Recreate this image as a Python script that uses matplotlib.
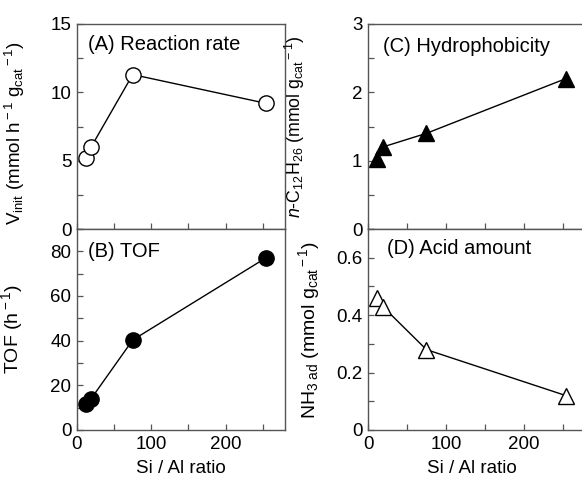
import numpy as np
import matplotlib
matplotlib.use("Agg")
import matplotlib.pyplot as plt
from matplotlib.ticker import MultipleLocator, FuncFormatter

plt.rcParams['font.family'] = ['Liberation Sans', 'DejaVu Sans']
plt.rcParams['mathtext.fontset'] = 'custom'
plt.rcParams['mathtext.rm'] = 'Liberation Sans'
plt.rcParams['mathtext.it'] = 'Liberation Sans:italic'
plt.rcParams['font.size'] = 13

# Si/Al ratio
si_al = [12, 19, 75, 254]

# panel data
rate = [5.2, 6.0, 11.3, 9.2]          # (A) V_init
tof = [11.5, 14.0, 40.3, 77.0]        # (B) TOF
hydro = [1.02, 1.2, 1.4, 2.2]         # (C) n-C12H26 adsorbed
acid = [0.46, 0.43, 0.28, 0.12]       # (D) NH3 adsorbed

fig = plt.figure(figsize=(5.82, 4.78), dpi=100)

W, H = 582.0, 478.0
def box(l, r, t, b):
    return [l / W, (H - b) / H, (r - l) / W, (b - t) / H]

axA = fig.add_axes(box(77, 285, 24, 229))
axB = fig.add_axes(box(77, 285, 229, 430))
axC = fig.add_axes(box(368, 586, 24, 229))
axD = fig.add_axes(box(368, 586, 229, 430))

spine_col = '#555555'

def style(ax, ymax, ymaj, ymin, fmt, bottom):
    ax.set_xlim(0, 280)
    ax.set_ylim(0, ymax)
    ax.xaxis.set_major_locator(MultipleLocator(100))
    ax.xaxis.set_minor_locator(MultipleLocator(50))
    ax.yaxis.set_major_locator(MultipleLocator(ymaj))
    ax.yaxis.set_minor_locator(MultipleLocator(ymin))
    ax.yaxis.set_major_formatter(FuncFormatter(fmt))
    ax.tick_params(which='both', direction='in', length=4, width=0.9,
                   color=spine_col, labelsize=13.5, pad=4,
                   top=False, right=False)
    if not bottom:
        ax.tick_params(labelbottom=False)
    for s in ax.spines.values():
        s.set_color(spine_col)
        s.set_linewidth(1.0)

intfmt = lambda v, p: '%d' % round(v)
decfmt = lambda v, p: '0' if abs(v) < 1e-9 else '%.1f' % v

style(axA, 15, 5, 2.5, intfmt, False)
style(axB, 90, 20, 10, intfmt, True)
style(axC, 3, 1, 0.5, intfmt, False)
style(axD, 0.7, 0.2, 0.1, decfmt, True)

kw = dict(color='black', lw=1.0, markeredgewidth=1.0,
          markeredgecolor='black', clip_on=False)
axA.plot(si_al, rate, marker='o', markersize=11, markerfacecolor='white', **kw)
axB.plot(si_al, tof, marker='o', markersize=11, markerfacecolor='black', **kw)
axC.plot(si_al, hydro, marker='^', markersize=12, markerfacecolor='black', **kw)
axD.plot(si_al, acid, marker='^', markersize=12, markerfacecolor='white', **kw)

tfs = 14.5
axA.text(0.053, 0.90, '(A) Reaction rate', transform=axA.transAxes,
         fontsize=tfs, va='center', ha='left')
axB.text(0.053, 0.89, '(B) TOF', transform=axB.transAxes,
         fontsize=tfs, va='center', ha='left')
axC.text(0.067, 0.889, '(C) Hydrophobicity', transform=axC.transAxes,
         fontsize=tfs, va='center', ha='left')
axD.text(0.086, 0.904, '(D) Acid amount', transform=axD.transAxes,
         fontsize=tfs, va='center', ha='left')

axA.set_ylabel(r'V$_{\rm init}$ (mmol h$^{\rm -1}$ g$_{\rm cat}$$^{\rm -1}$)', fontsize=13.5)
axB.set_ylabel(r'TOF (h$^{\rm -1}$)', fontsize=14)
axC.set_ylabel(r'$n$-C$_{\rm 12}$H$_{\rm 26}$ (mmol g$_{\rm cat}$$^{\rm -1}$)', fontsize=12.8)
axD.set_ylabel(r'NH$_{\rm 3\ ad}$ (mmol g$_{\rm cat}$$^{\rm -1}$)', fontsize=14)

axA.yaxis.set_label_coords(-0.24, 0.47)
axB.yaxis.set_label_coords(-0.25, 0.5)
axC.yaxis.set_label_coords(-0.28, 0.5)
axD.yaxis.set_label_coords(-0.212, 0.5)

axB.set_xlabel('Si / Al ratio', fontsize=13.5)
axD.set_xlabel('Si / Al ratio', fontsize=13.5)
axB.xaxis.set_label_coords(0.5, -0.15)
axD.xaxis.set_label_coords(0.5 * 208 / 218, -0.15)

fig.savefig('out.png', dpi=100)
